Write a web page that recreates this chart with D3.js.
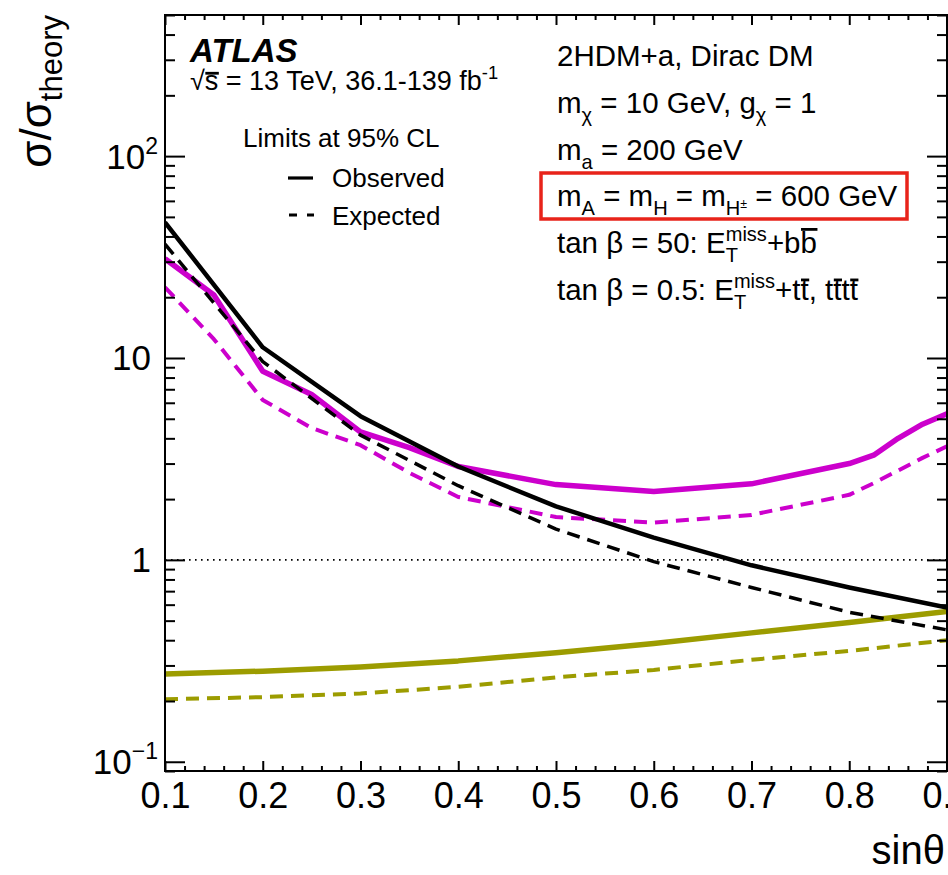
<!DOCTYPE html>
<html>
<head>
<meta charset="utf-8">
<script src="https://cdn.jsdelivr.net/npm/d3@7"></script>
<style>
  html, body { margin: 0; padding: 0; background: #fff; }
  svg { display: block; }
  text { font-family: "Liberation Sans", Arial, Helvetica, sans-serif; fill: #000; white-space: pre; }
</style>
</head>
<body>
<svg id="chart" width="948" height="875"></svg>
<script>
// sin(theta) grid points
const sinTheta = [0.1, 0.2, 0.3, 0.4, 0.5, 0.6, 0.7, 0.8, 0.9];
const sinThetaFine = [0.1, 0.15, 0.2, 0.25, 0.3, 0.35, 0.4, 0.5, 0.6, 0.7, 0.8, 0.825, 0.85, 0.875, 0.9];

// tan(beta) = 50, E_T^miss + bb  (black)
const obsBB = [47, 11.3, 5.15, 2.9, 1.84, 1.29, 0.94, 0.73, 0.58];
const expBB = [36.6, 9.6, 4.15, 2.33, 1.42, 0.98, 0.73, 0.55, 0.45];

// tan(beta) = 0.5, E_T^miss + tt, tttt  (magenta)
const obsTT = [31, 20.5, 8.6, 6.6, 4.3, 3.6, 2.9, 2.36, 2.18, 2.38, 3.0, 3.3, 4.0, 4.7, 5.3];
const expTT = [22.4, 12.4, 6.2, 4.5, 3.7, 2.7, 2.05, 1.63, 1.53, 1.67, 2.1, 2.4, 2.77, 3.2, 3.65];

// combined / theory (olive)
const obsCmb = [0.272, 0.281, 0.295, 0.316, 0.347, 0.385, 0.435, 0.49, 0.555];
const expCmb = [0.204, 0.209, 0.218, 0.235, 0.262, 0.285, 0.32, 0.354, 0.40];

// axis ticks
const xMajor = [0.1, 0.2, 0.3, 0.4, 0.5, 0.6, 0.7, 0.8, 0.9];
const xLabels = ["0.1", "0.2", "0.3", "0.4", "0.5", "0.6", "0.7", "0.8", "0.9"];
const yMajor = [0.1, 1, 10, 100];
const yLabelBase = ["10", "1", "10", "10"];
const yLabelExp = ["\u22121", "", "", "2"];

const svg = d3.select("#chart");
const L = 165, R = 947, T = 15, B = 771;

const x = d3.scaleLinear().domain([0.1, 0.9]).range([L, R]);
const y = d3.scaleLog().domain([0.09, 500]).range([B, T]);

// minor ticks
const xMinor = d3.range(0.1, 0.9001, 0.02).map(v => +v.toFixed(2)).filter(v => !xMajor.some(m => Math.abs(m - v) < 1e-6));
const yMinor = [];
[0.01, 0.1, 1, 10, 100].forEach(dec => {
  for (let k = 2; k <= 9; k++) {
    const v = +(dec * k).toPrecision(3);
    if (v >= 0.09 && v <= 500) yMinor.push(v);
  }
});

// clip for curves
svg.append("defs").append("clipPath").attr("id", "plotClip")
  .append("rect").attr("x", L).attr("y", T).attr("width", R - L).attr("height", B - T);

// reference line at sigma/sigma_theory = 1
svg.append("line")
  .attr("x1", L).attr("x2", R).attr("y1", y(1)).attr("y2", y(1))
  .attr("stroke", "#000").attr("stroke-width", 1.6).attr("stroke-dasharray", "1.6,4.4");

const line = d3.line().x(d => x(d[0])).y(d => y(d[1]));
const curves = svg.append("g").attr("clip-path", "url(#plotClip)");

function drawCurve(xs, ys, color, width, dash) {
  curves.append("path")
    .datum(xs.map((v, i) => [v, ys[i]]))
    .attr("d", line)
    .attr("fill", "none")
    .attr("stroke", color)
    .attr("stroke-width", width)
    .attr("stroke-linejoin", "round")
    .attr("stroke-dasharray", dash || null);
}

const MAG = "#cc00cc", OLV = "#9c9c00";
drawCurve(sinTheta, expCmb, OLV, 4, "13,8");
drawCurve(sinTheta, obsCmb, OLV, 5.5);
drawCurve(sinThetaFine, expTT, MAG, 4, "13,8");
drawCurve(sinThetaFine, obsTT, MAG, 5.5);
drawCurve(sinTheta, expBB, "#000", 3.5, "13,8");
drawCurve(sinTheta, obsBB, "#000", 4.5);

// axes
function styleAxis(g) {
  g.select(".domain").remove();
  g.selectAll(".tick line").attr("stroke", "#000").attr("stroke-width", 2);
}

const xAxisB = svg.append("g").attr("transform", `translate(0,${B})`)
  .call(d3.axisBottom(x).tickValues(xMajor).tickSize(-10).tickPadding(11)
    .tickFormat((d, i) => xLabels[i]));
styleAxis(xAxisB);
xAxisB.selectAll("text").style("font-size", "36px").attr("font-family", null);

svg.append("g").attr("transform", `translate(0,${B})`)
  .call(d3.axisBottom(x).tickValues(xMinor).tickSize(-5).tickFormat(""))
  .call(styleAxis);
svg.append("g").attr("transform", `translate(0,${T})`)
  .call(d3.axisTop(x).tickValues(xMajor).tickSize(-10).tickFormat(""))
  .call(styleAxis);
svg.append("g").attr("transform", `translate(0,${T})`)
  .call(d3.axisTop(x).tickValues(xMinor).tickSize(-5).tickFormat(""))
  .call(styleAxis);

const yAxisL = svg.append("g").attr("transform", `translate(${L},0)`)
  .call(d3.axisLeft(y).tickValues(yMajor).tickSize(-20).tickFormat(""));
styleAxis(yAxisL);
svg.append("g").attr("transform", `translate(${L},0)`)
  .call(d3.axisLeft(y).tickValues(yMinor).tickSize(-10).tickFormat(""))
  .call(styleAxis);
svg.append("g").attr("transform", `translate(${R},0)`)
  .call(d3.axisRight(y).tickValues(yMajor).tickSize(-20).tickFormat(""))
  .call(styleAxis);
svg.append("g").attr("transform", `translate(${R},0)`)
  .call(d3.axisRight(y).tickValues(yMinor).tickSize(-10).tickFormat(""))
  .call(styleAxis);

// y tick labels with exponents
yAxisL.selectAll(".tick").each(function(d, i) {
  const t = d3.select(this).append("text")
    .attr("x", yLabelExp[i] ? -7 : -14)
    .attr("y", 12)
    .attr("text-anchor", "end")
    .style("font-size", "35px");
  t.append("tspan").text(yLabelBase[i]);
  if (yLabelExp[i]) {
    t.append("tspan").attr("dy", -15).style("font-size", "23px").text(yLabelExp[i]);
  }
});

// frame
svg.append("rect").attr("x", L).attr("y", T).attr("width", R - L).attr("height", B - T)
  .attr("fill", "none").attr("stroke", "#000").attr("stroke-width", 2);

// axis titles
svg.append("text").attr("x", 945).attr("y", 864).attr("text-anchor", "end")
  .style("font-size", "40px").text("sin\u03b8");

const yTitle = svg.append("text")
  .attr("transform", "translate(51,15) rotate(-90)")
  .attr("text-anchor", "end")
  .style("font-size", "44px");
yTitle.append("tspan").text("\u03c3/\u03c3");
yTitle.append("tspan").attr("dy", 11).style("font-size", "31px").text("theory");

// rich-text helper: plain runs, sub/superscripts and overlined letters
function rich(g, x0, y0, items, size) {
  let cx = x0;
  items.forEach(it => {
    if (it.t !== undefined) {
      const s = size * (it.scale || 1);
      const el = g.append("text").attr("x", cx).attr("y", y0 + (it.dy || 0))
        .style("font-size", s + "px").text(it.t);
      const w = el.node().getComputedTextLength();
      if (it.bar) {
        const by = y0 - size * it.bar;
        g.append("line").attr("x1", cx + 0.5).attr("x2", cx + w + 0.5)
          .attr("y1", by).attr("y2", by).attr("stroke", "#000").attr("stroke-width", 2.8);
      }
      cx += w + (it.gap || 0);
    } else {
      let w = 0;
      const s = size * 0.68;
      if (it.sup) {
        const e = g.append("text").attr("x", cx).attr("y", y0 - size * 0.42)
          .style("font-size", s + "px").text(it.sup);
        w = Math.max(w, e.node().getComputedTextLength());
      }
      if (it.sub) {
        const e = g.append("text").attr("x", cx).attr("y", y0 + size * 0.32)
          .style("font-size", s + "px").text(it.sub);
        w = Math.max(w, e.node().getComputedTextLength());
      }
      cx += w;
    }
  });
  return cx;
}

const ann = svg.append("g");

// experiment label
ann.append("text").attr("x", 190).attr("y", 62)
  .style("font-size", "33px").style("font-weight", "bold").style("font-style", "italic")
  .text("ATLAS");
rich(ann, 190, 90, [
  { t: "\u221a" }, { t: "s", bar: 0.62 }, { t: " = 13 TeV, 36.1-139 fb" }, { sup: "-1" }
], 27);

// legend
const lfs = 26;
ann.append("text").attr("x", 243).attr("y", 147).style("font-size", lfs + "px").text("Limits at 95% CL");
ann.append("line").attr("x1", 288).attr("x2", 313).attr("y1", 178).attr("y2", 178)
  .attr("stroke", "#000").attr("stroke-width", 3.2);
ann.append("text").attr("x", 332).attr("y", 187).style("font-size", lfs + "px").text("Observed");
ann.append("line").attr("x1", 289).attr("x2", 314).attr("y1", 215).attr("y2", 215)
  .attr("stroke", "#000").attr("stroke-width", 3.2).attr("stroke-dasharray", "8,10");
ann.append("text").attr("x", 332).attr("y", 225).style("font-size", lfs + "px").text("Expected");

// model description
const tx = 557, fs = 29.5;
rich(ann, tx, 66, [{ t: "2HDM+a, Dirac DM" }], fs);
rich(ann, tx, 113, [{ t: "m" }, { sub: "\u03c7" }, { t: " = 10 GeV, g" }, { sub: "\u03c7" }, { t: " = 1" }], fs);
rich(ann, tx, 160, [{ t: "m" }, { sub: "a" }, { t: " = 200 GeV" }], fs);
rich(ann, tx, 206, [
  { t: "m" }, { sub: "A" }, { t: " = m" }, { sub: "H" }, { t: " = m" }, { sub: "H" },
  { t: "\u00b1", scale: 0.42, dy: 2 }, { t: " = 600 GeV" }
], fs);
rich(ann, tx, 253, [
  { t: "tan \u03b2 = 50: E" }, { sup: "miss", sub: "T" }, { t: "+b" }, { t: "b", bar: 0.8 }
], fs);
rich(ann, tx, 300, [
  { t: "tan \u03b2 = 0.5: E" }, { sup: "miss", sub: "T" }, { t: "+t" }, { t: "t", bar: 0.68 },
  { t: ", t" }, { t: "t", bar: 0.68 }, { t: "t" }, { t: "t", bar: 0.68 }
], fs);

// highlight box around the heavy Higgs masses
ann.append("rect").attr("x", 541).attr("y", 173).attr("width", 366).attr("height", 46)
  .attr("fill", "none").attr("stroke", "#e8231a").attr("stroke-width", 3.5);
</script>
</body>
</html>
